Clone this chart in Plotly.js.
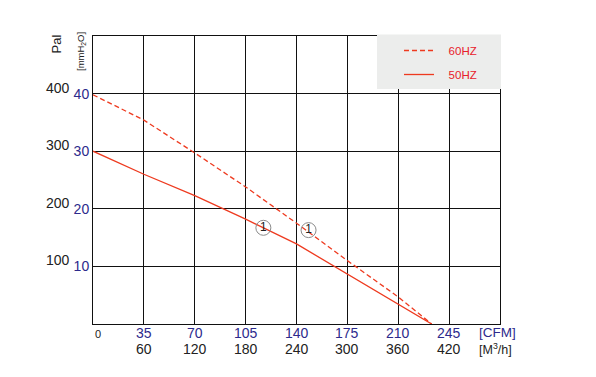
<!DOCTYPE html>
<html>
<head>
<meta charset="utf-8">
<script src="https://cdn.plot.ly/plotly-3.0.1.min.js"></script>
<style>html,body{margin:0;padding:0;background:#fff;}#chart{width:596px;height:377px;}</style>
</head>
<body>
<div id="chart"></div>
<script>
// Data (x in CFM, y in mmH2O)
const flow60 = [0, 35, 70, 105, 140, 175, 210, 233];
const press60 = [39.8, 35.4, 29.7, 23.8, 17.5, 11.0, 4.7, 0];
const flow50 = [0, 35, 70, 105, 140, 175, 210, 233];
const press50 = [30, 26.0, 22.3, 18.2, 13.9, 8.7, 3.5, 0];
const markFlow = [117.2, 148.3];
const markPress = [16.7, 16.3];
const markText = ["1", "1"];
const cfmTicks = [0, 35, 70, 105, 140, 175, 210, 245];
const cfmLabels = ["0", "35", "70", "105", "140", "175", "210", "245"];
const m3hLabels = ["60", "120", "180", "240", "300", "360", "420"];
const mmTicks = [10, 20, 30, 40];
const paLabels = ["100", "200", "300", "400"];
const seriesNames = ["60HZ", "50HZ"];

const BLUE = '#2d2a8c';
const CURVE = '#ee3a1f';
const F = 'Liberation Sans, Arial, sans-serif';
const PAD = '\u00a0\u00a0\u00a0';

const traces = [
  {x: flow60, y: press60, mode: 'lines', name: PAD + seriesNames[0], legendgroup: 'a',
   line: {color: CURVE, width: 1.3, dash: '5px,3px'}},
  {x: flow50, y: press50, mode: 'lines', name: PAD + seriesNames[1], legendgroup: 'b',
   line: {color: CURVE, width: 1.3}},
  {x: markFlow, y: markPress, mode: 'markers+text', text: markText, showlegend: false,
   textposition: 'middle center', textfont: {family: F, size: 12, color: '#222'},
   marker: {symbol: 'circle-open', size: 15, color: '#8a8a8a', line: {width: 1}}}
];

const annotations = [];
mmTicks.forEach((v, i) => annotations.push({
  xref: 'paper', yref: 'y', x: -21/407, y: v, yshift: 6, xanchor: 'right', yanchor: 'middle',
  text: paLabels[i], showarrow: false, font: {family: F, size: 14, color: '#222'}
}));
cfmTicks.forEach((v, i) => annotations.push(i === 0 ? {
  xref: 'x', yref: 'paper', x: v, y: 0, yshift: -9.5, xanchor: 'left', yanchor: 'middle',
  text: cfmLabels[i], showarrow: false, font: {family: F, size: 11, color: '#222'}
} : {
  xref: 'x', yref: 'paper', x: v, y: 0, yshift: -8.5, xanchor: 'center', yanchor: 'middle',
  text: cfmLabels[i], showarrow: false, font: {family: F, size: 14, color: BLUE}
}));
m3hLabels.forEach((t, i) => annotations.push({
  xref: 'x', yref: 'paper', x: cfmTicks[i + 1], y: 0, yshift: -24.5, xanchor: 'center', yanchor: 'middle',
  text: t, showarrow: false, font: {family: F, size: 14, color: '#222'}
}));
annotations.push({xref: 'paper', yref: 'paper', x: (477-93)/407, y: 0, yshift: -8.5, xanchor: 'left', yanchor: 'middle',
  text: '[CFM]', showarrow: false, font: {family: F, size: 13.5, color: BLUE}});
annotations.push({xref: 'paper', yref: 'paper', x: (477-93)/407, y: 0, yshift: -24.5, xanchor: 'left', yanchor: 'middle',
  text: '[M<sup>3</sup>/h]', showarrow: false, font: {family: F, size: 12.5, color: '#222'}});
annotations.push({xref: 'paper', yref: 'paper', x: (55.5-93)/407, y: 1, yshift: -8, xanchor: 'center', yanchor: 'middle',
  text: 'Pal', textangle: -90, showarrow: false, font: {family: F, size: 13, color: '#222'}});
annotations.push({xref: 'paper', yref: 'paper', x: (81-93)/407, y: 1, yshift: -16, xanchor: 'center', yanchor: 'middle',
  text: '[mmH<sub>2</sub>O]', textangle: -90, showarrow: false, font: {family: F, size: 9.5, color: '#222'}});

const layout = {
  width: 596, height: 377,
  margin: {l: 93, r: 96, t: 36, b: 53},
  paper_bgcolor: '#fff', plot_bgcolor: '#fff',
  showlegend: true,
  legend: {x: (399-93)/407, y: 1.0, xanchor: 'left', yanchor: 'top', bgcolor: 'rgba(0,0,0,0)',
    font: {family: F, size: 11.5, color: '#e8202a'}, traceorder: 'grouped', tracegroupgap: 5},
  xaxis: {range: [0, 280], tickvals: cfmTicks, showticklabels: false,
    ticks: '', showgrid: true, gridcolor: '#111', gridwidth: 1,
    showline: true, linecolor: '#111', linewidth: 1, mirror: true, zeroline: false, fixedrange: true},
  yaxis: {range: [0, 50], tickvals: mmTicks, tickfont: {family: F, size: 14, color: BLUE}, ticks: '',
    showgrid: true, gridcolor: '#111', gridwidth: 1,
    showline: true, linecolor: '#111', linewidth: 1, mirror: true, zeroline: false, fixedrange: true},
  shapes: [{type: 'rect', xref: 'paper', yref: 'paper', layer: 'above',
    x0: (377-93)/407, x1: (501-93)/407, y0: 1 - (89-36)/288, y1: 1.005,
    fillcolor: '#ecedec', line: {width: 0}}],
  annotations: annotations
};

Plotly.newPlot('chart', traces, layout, {displayModeBar: false, staticPlot: true});
</script>
</body>
</html>
